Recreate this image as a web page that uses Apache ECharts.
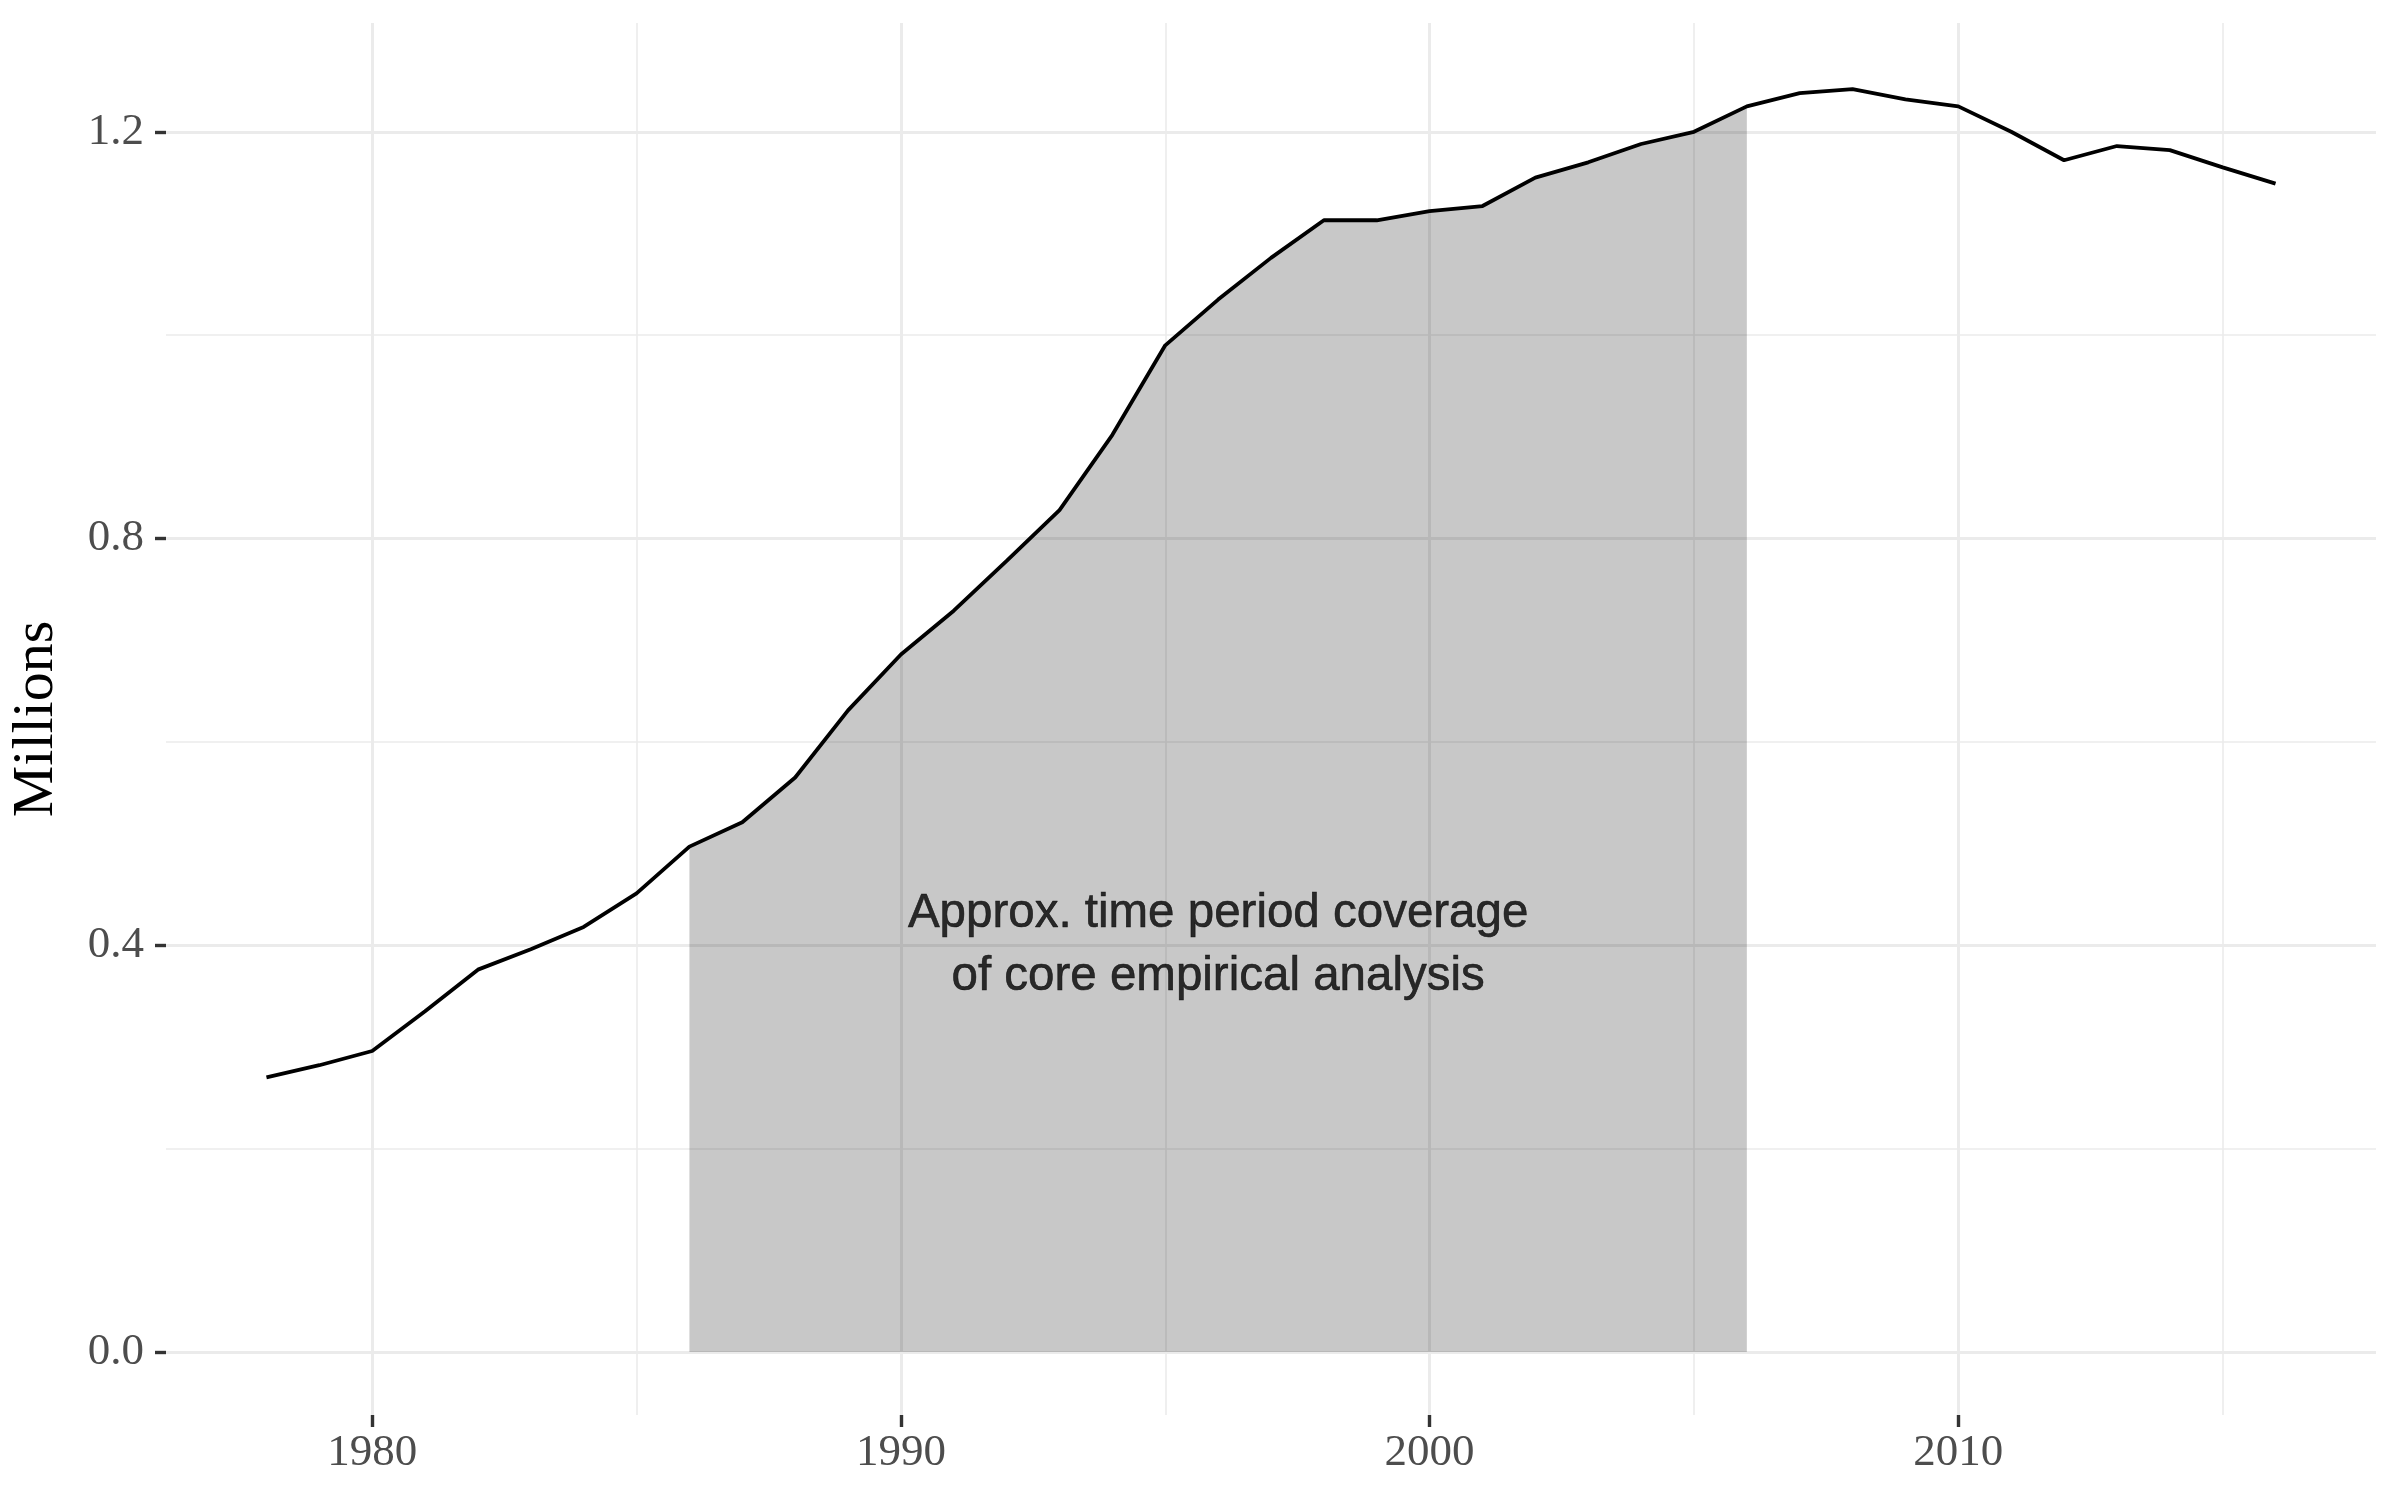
<!DOCTYPE html>
<html>
<head>
<meta charset="utf-8">
<script src="https://cdn.jsdelivr.net/npm/echarts@6/dist/echarts.min.js"></script>
<style>
  html, body { margin: 0; padding: 0; background: #ffffff; }
  #chart { width: 2400px; height: 1500px; }
</style>
</head>
<body>
<div id="chart"></div>
<script>
// ---- data ----
const years = [1978,1979,1980,1981,1982,1983,1984,1985,1986,1987,1988,1989,1990,1991,1992,1993,1994,1995,1996,1997,1998,1999,2000,2001,2002,2003,2004,2005,2006,2007,2008,2009,2010,2011,2012,2013,2014,2015,2016];
const millions = [0.270,0.282,0.296,0.335,0.376,0.396,0.418,0.451,0.497,0.521,0.565,0.631,0.686,0.729,0.778,0.828,0.902,0.990,1.035,1.076,1.113,1.113,1.122,1.127,1.155,1.170,1.188,1.200,1.225,1.238,1.242,1.232,1.225,1.200,1.172,1.186,1.182,1.165,1.149];
const shadeStart = 1986;
const shadeEnd = 2006;
const xTickLabels = [1980, 1990, 2000, 2010];
const xMinorGrid = [1985, 1995, 2005, 2015];
const yTickLabels = [0.0, 0.4, 0.8, 1.2];
const yMinorGrid = [0.2, 0.6, 1.0];
const annotationText = 'Approx. time period coverage\nof core empirical analysis';
const annotationPos = [1996, 0.4];
const yAxisTitle = 'Millions';

// ---- build ----
const lineData = years.map((y, i) => [y, millions[i]]);
const shadeData = lineData.filter(d => d[0] >= shadeStart && d[0] <= shadeEnd);

const gridMajor = { color: '#EBEBEB', width: 3, type: 'solid' };
const gridMinor = { color: '#EBEBEB', width: 1.6, type: 'solid' };
const markLines = []
  .concat(xTickLabels.map(v => ({ xAxis: v, lineStyle: gridMajor })))
  .concat(xMinorGrid.map(v => ({ xAxis: v, lineStyle: gridMinor })))
  .concat(yTickLabels.map(v => ({ yAxis: v, lineStyle: gridMajor })))
  .concat(yMinorGrid.map(v => ({ yAxis: v, lineStyle: gridMinor })));

const serifFont = '"Liberation Serif", "DejaVu Serif", serif';

const chart = echarts.init(document.getElementById('chart'), null, { renderer: 'canvas' });
chart.setOption({
  animation: false,
  backgroundColor: '#ffffff',
  grid: { left: 166, right: 24, top: 23, bottom: 85, containLabel: false, outerBoundsMode: 'none' },
  xAxis: {
    type: 'value',
    position: 'bottom',
    min: 1976.1,
    max: 2017.9,
    z: 5,
    axisLine: { show: false, onZero: false },
    axisTick: { show: true, inside: false, customValues: xTickLabels, length: 12, lineStyle: { color: '#333333', width: 3.4 } },
    axisLabel: { show: true, customValues: xTickLabels, margin: 16, color: '#4D4D4D', fontSize: 45, fontFamily: serifFont, formatter: v => String(v) },
    splitLine: { show: false }
  },
  yAxis: {
    type: 'value',
    position: 'left',
    min: -0.062,
    max: 1.307,
    z: 5,
    name: yAxisTitle,
    nameLocation: 'middle',
    nameRotate: 90,
    nameGap: 100,
    nameTextStyle: { color: '#000000', fontSize: 58, fontFamily: serifFont },
    axisLine: { show: false, onZero: false },
    axisTick: { show: true, inside: false, customValues: yTickLabels, length: 11, lineStyle: { color: '#333333', width: 3.4 } },
    axisLabel: { show: true, customValues: yTickLabels, margin: 22, color: '#4D4D4D', fontSize: 45, fontFamily: serifFont, formatter: v => v.toFixed(1) },
    splitLine: { show: false }
  },
  series: [
    {
      name: 'grid',
      type: 'line',
      data: [],
      z: 0,
      silent: true,
      markLine: {
        silent: true,
        z: 0,
        symbol: ['none', 'none'],
        label: { show: false },
        animation: false,
        data: markLines
      }
    },
    {
      name: 'shade',
      type: 'line',
      data: shadeData,
      z: 1,
      silent: true,
      showSymbol: false,
      symbol: 'none',
      lineStyle: { width: 0, opacity: 0 },
      areaStyle: { color: 'rgba(0,0,0,0.215)', origin: 'auto', opacity: 1 }
    },
    {
      name: 'Millions',
      type: 'line',
      data: lineData,
      z: 3,
      showSymbol: false,
      symbol: 'none',
      lineStyle: { color: '#000000', width: 3.8 }
    },
    {
      name: 'annotation',
      type: 'scatter',
      data: [annotationPos],
      z: 4,
      symbolSize: 0,
      silent: true,
      label: {
        show: true,
        position: 'inside',
        formatter: annotationText,
        color: '#000000',
        textBorderColor: '#000000',
        textBorderWidth: 0.6,
        fontSize: 47.5,
        lineHeight: 63,
        align: 'center',
        verticalAlign: 'middle',
        fontFamily: '"Liberation Sans", Arial, sans-serif'
      }
    }
  ]
});
</script>
</body>
</html>
